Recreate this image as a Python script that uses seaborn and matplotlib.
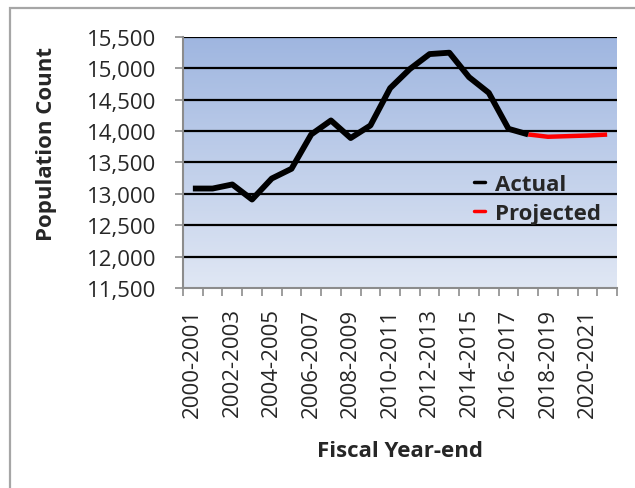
import numpy as np
import pandas as pd
import matplotlib
matplotlib.use("Agg")
import matplotlib.pyplot as plt
import matplotlib.patches as mpatches
from matplotlib.lines import Line2D
from matplotlib.colors import LinearSegmentedColormap
import seaborn as sns

categories = ["2000-2001", "2001-2002", "2002-2003", "2003-2004", "2004-2005",
              "2005-2006", "2006-2007", "2007-2008", "2008-2009", "2009-2010",
              "2010-2011", "2011-2012", "2012-2013", "2013-2014", "2014-2015",
              "2015-2016", "2016-2017", "2017-2018", "2018-2019", "2019-2020",
              "2020-2021", "2021-2022"]
actual = [13085, 13085, 13150, 12910, 13245, 13400, 13947, 14170, 13890, 14090,
          14685, 14990, 15228, 15250, 14860, 14611, 14037, 13947]
projected = [13947, 13910, 13920, 13930, 13945]
yticks = [11500, 12000, 12500, 13000, 13500, 14000, 14500, 15000, 15500]

sns.set_theme(style="white")
plt.rcParams['font.family'] = ['Open Sans', 'DejaVu Sans']

df_a = pd.DataFrame({"x": np.arange(len(actual)), "y": actual})
df_p = pd.DataFrame({"x": np.arange(len(actual) - 1, len(actual) - 1 + len(projected)),
                     "y": projected})

fig = plt.figure(figsize=(6.35, 4.89), dpi=100)
ax = fig.add_axes([183/635, 1 - 289/489, (617-183)/635, (289-38)/489])

# gradient background
cmap = LinearSegmentedColormap.from_list("bg", ["#e0e7f4", "#9fb6e0"])
grad = np.linspace(0, 1, 256).reshape(-1, 1)
ax.imshow(grad, cmap=cmap, aspect="auto", origin="lower",
          extent=[0, 1, 0, 1], transform=ax.transAxes, zorder=0)

sns.lineplot(data=df_a, x="x", y="y", ax=ax, color="black", linewidth=4.2,
             zorder=4, solid_capstyle="butt")
sns.lineplot(data=df_p, x="x", y="y", ax=ax, color="#ff0000", linewidth=3.2,
             zorder=3, solid_capstyle="butt")

ax.set_xlim(-0.5, len(categories) - 0.5)
ax.set_ylim(yticks[0], yticks[-1])
ax.set_yticks(yticks)
ax.set_yticklabels([f"{v:,}" for v in yticks])
for v in yticks[1:]:
    ax.axhline(v, color="black", linewidth=1.6, zorder=2)

major = np.arange(0, len(categories), 2)
ax.set_xticks(major)
ax.set_xticklabels([categories[i] for i in major], rotation=90, va="top", ha="center")
ax.set_xticks(np.arange(-0.5, len(categories), 1), minor=True)

ax.tick_params(axis="x", which="major", length=0, pad=14, labelsize=16)
ax.tick_params(axis="x", which="minor", length=6, width=1.2, color="#8c8c8c",
               direction="out", bottom=True)
ax.tick_params(axis="y", which="major", length=6, width=1.2, color="#8c8c8c",
               direction="out", left=True, pad=13, labelsize=16)

for s in ["top", "right"]:
    ax.spines[s].set_visible(False)
for s in ["left", "bottom"]:
    ax.spines[s].set_color("#8c8c8c")
    ax.spines[s].set_linewidth(1.5)
    ax.spines[s].set_zorder(5)

ax.set_xlabel("Fiscal Year-end", fontsize=16, fontweight="bold")
ax.set_ylabel("Population Count", fontsize=16, fontweight="bold")
ax.xaxis.set_label_coords(400/635, 1 - 452/489, transform=fig.transFigure)
ax.yaxis.set_label_coords(47/635, 1 - 144/489, transform=fig.transFigure)
ax.xaxis.label.set_va("center")
ax.yaxis.label.set_va("center")

handles = [Line2D([0], [0], color="black", linewidth=2.5),
           Line2D([0], [0], color="#ff0000", linewidth=2.5)]
leg = ax.legend(handles, ["Actual", "Projected"], loc="center left",
                bbox_to_anchor=(474/635, 1 - 200/489), bbox_transform=fig.transFigure,
                frameon=False, handlelength=0.5, handletextpad=0.45,
                labelspacing=0.35, prop={"weight": "bold", "size": 16},
                borderaxespad=0, borderpad=0)

border = mpatches.Rectangle((10/635, -0.1), 1.2, 1.1 - 9/489 + 0.0,
                            transform=fig.transFigure, fill=False,
                            edgecolor="#a6a6a6", linewidth=1.6, zorder=10)
fig.patches.append(border)

fig.savefig("out.png", dpi=100)
